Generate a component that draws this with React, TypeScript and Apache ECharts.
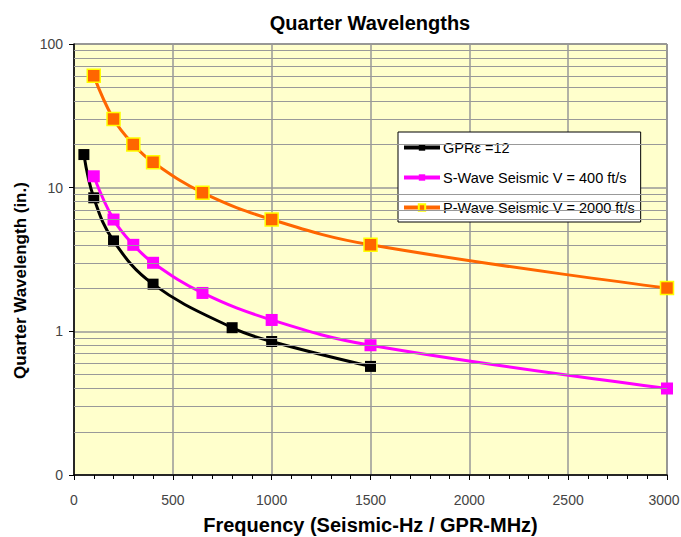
import React, { useEffect, useRef } from "react";
import * as echarts from "echarts";

const gprFreq = [50, 100, 200, 400, 800, 1000, 1500];
const gprVal = [17.0, 8.5, 4.26, 2.13, 1.06, 0.85, 0.57];
const sFreq = [100, 200, 300, 400, 650, 1000, 1500, 3000];
const sVal = [12, 6, 4, 3, 1.85, 1.2, 0.8, 0.4];
const pFreq = [100, 200, 300, 400, 650, 1000, 1500, 3000];
const pVal = [60, 30, 20, 15, 9.23, 6, 4, 2];
const minorLines = [0.2, 0.3, 0.4, 0.5, 0.6, 0.7, 0.8, 0.9, 2, 3, 4, 5, 6, 7, 8, 9, 20, 30, 40, 50, 60, 70, 80, 90];
const seriesNames = ["GPRε =12", "S-Wave Seismic V = 400 ft/s", "P-Wave Seismic V = 2000 ft/s"];

const FONT = "Liberation Sans, Arial, sans-serif";

export default function App() {
  const ref = useRef<HTMLDivElement>(null);
  useEffect(() => {
    if (!ref.current) return;
    const chart = echarts.init(ref.current, null, { renderer: "svg" });
    const zip = (xs: number[], ys: number[]) => xs.map((x, i) => [x, ys[i]]);
    chart.setOption({
      animation: false,
      backgroundColor: "#ffffff",
      title: {
        text: "Quarter Wavelengths",
        left: 365,
        top: 8,
        textAlign: "center",
        textStyle: { fontFamily: FONT, fontSize: 20, fontWeight: "bold", color: "#000" },
      },
      legend: {
        orient: "vertical",
        left: 398,
        top: 132,
        backgroundColor: "#ffffff",
        borderColor: "#000",
        borderWidth: 1,
        borderRadius: 0,
        padding: [8, 6, 7, 4],
        itemWidth: 36,
        itemHeight: 8,
        itemGap: 15,
        data: seriesNames,
        lineStyle: { width: 4 },
        textStyle: { fontFamily: FONT, fontSize: 14.5, color: "#000", padding: [0, 0, 0, -2] },
      },
      grid: {
        left: 74,
        top: 44,
        right: 14,
        bottom: 62,
        outerBoundsMode: "none",
        containLabel: false,
        show: true,
        backgroundColor: "#FFFFCC",
        borderColor: "#333",
        borderWidth: 1,
      },
      xAxis: {
        type: "value",
        min: 0,
        max: 3000,
        interval: 500,
        name: "Frequency (Seismic-Hz / GPR-MHz)",
        nameLocation: "middle",
        nameGap: 40,
        nameTextStyle: { fontFamily: FONT, fontSize: 20, fontWeight: "bold", color: "#000" },
        axisLine: { show: true, lineStyle: { color: "#000", width: 1.5 } },
        axisTick: { show: true, inside: false, length: 5, lineStyle: { color: "#000" } },
        minorTick: { show: true, splitNumber: 5, length: 4, lineStyle: { color: "#000" } },
        axisLabel: {
          fontFamily: FONT,
          fontSize: 14,
          color: "#444",
          margin: 18,
          formatter: (v: number) => (v === 3000 ? "{last|" + v + "}" : String(v)),
          rich: { last: { fontFamily: FONT, fontSize: 14, color: "#444", padding: [0, 6, 0, 0] } },
        },
        splitLine: { show: true, lineStyle: { color: "#999", width: 1.5 } },
      },
      yAxis: {
        type: "log",
        logBase: 10,
        min: 0.1,
        max: 100,
        name: "Quarter Wavelength (in.)",
        nameLocation: "middle",
        nameGap: 42,
        nameTextStyle: {
          fontFamily: FONT,
          fontSize: 17,
          fontWeight: "bold",
          color: "#000",
          padding: [0, 42, 0, 0],
        },
        axisLine: { show: true, lineStyle: { color: "#000", width: 1.5 } },
        axisTick: { show: true, inside: false, length: 5, lineStyle: { color: "#000" } },
        axisLabel: {
          fontFamily: FONT,
          fontSize: 14,
          color: "#444",
          margin: 11,
          formatter: (v: number) => (v < 1 ? "0" : String(Math.round(v))),
        },
        splitLine: { show: true, lineStyle: { color: "#999", width: 1.5 } },
      },
      series: [
        {
          name: "_grid",
          type: "line",
          data: [],
          silent: true,
          z: 1,
          markLine: {
            silent: true,
            symbol: "none",
            label: { show: false },
            lineStyle: { color: "#999", width: 1.2, type: "solid" },
            data: minorLines.map((v) => ({ yAxis: v })),
          },
        },
        {
          name: seriesNames[0],
          type: "line",
          smooth: 0.4,
          data: zip(gprFreq, gprVal),
          symbol: "rect",
          symbolSize: 11,
          itemStyle: { color: "#000000" },
          lineStyle: { color: "#000000", width: 3 },
          z: 3,
        },
        {
          name: seriesNames[1],
          type: "line",
          smooth: 0.4,
          data: zip(sFreq, sVal),
          symbol: "rect",
          symbolSize: 12,
          itemStyle: { color: "#FF00FF" },
          lineStyle: { color: "#FF00FF", width: 3 },
          z: 4,
        },
        {
          name: seriesNames[2],
          type: "line",
          smooth: 0.4,
          data: zip(pFreq, pVal),
          symbol: "rect",
          symbolSize: 13,
          itemStyle: { color: "#FF6600", borderColor: "#FFFF00", borderWidth: 1.5 },
          lineStyle: { color: "#FF6600", width: 3 },
          z: 5,
        },
      ],
    });
    return () => chart.dispose();
  }, []);
  return <div ref={ref} style={{ width: 681, height: 537, position: "absolute", left: 0, top: 0 }} />;
}
